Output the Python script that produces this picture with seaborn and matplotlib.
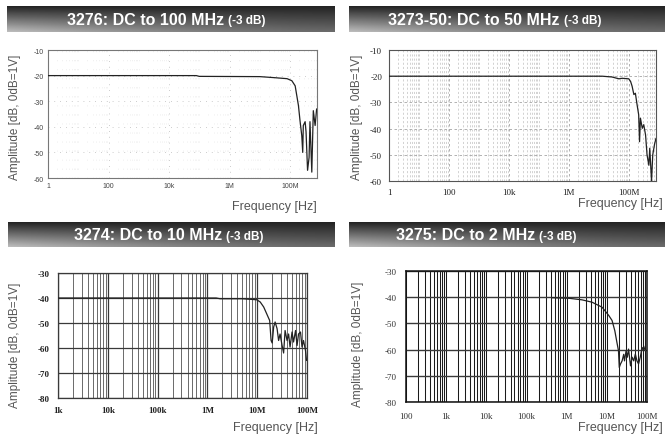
import numpy as np
import pandas as pd
import matplotlib
matplotlib.use("Agg")
import matplotlib.pyplot as plt
import matplotlib.ticker as mticker
from matplotlib import font_manager
import seaborn as sns

sns.set_style("white")
plt.rcParams["font.family"] = ["Liberation Sans", "DejaVu Sans"]

_names = {f.name for f in font_manager.fontManager.ttflist}
TITLE_FONT = "Liberation Sans Narrow" if "Liberation Sans Narrow" in _names else "Liberation Sans"

# ---------------------------------------------------------------------------
# data (Hz, dB)
# ---------------------------------------------------------------------------
titles = ["3276: DC to 100 MHz", "3273-50: DC to 50 MHz",
          "3274: DC to 10 MHz", "3275: DC to 2 MHz"]
title_note = "(-3 dB)"

f_3276 = [1, 8e4, 1e5, 1e7, 3e7, 8e7, 1.15e8, 1.48e8, 1.9e8, 2.14e8, 2.45e8,
          2.63e8, 2.75e8, 3.16e8, 3.39e8, 3.8e8, 4.27e8, 4.57e8, 5.25e8,
          5.89e8, 6.76e8, 7.59e8]
a_3276 = [-20.0, -20.0, -20.3, -20.4, -20.8, -21.2, -22.0, -24.0, -31.7, -37.6,
          -43.5, -50.0, -39.5, -38.0, -42.0, -57.0, -52.0, -38.0, -57.7,
          -33.7, -39.5, -33.0]

f_3273 = [1, 1.3e7, 2.75e7, 4.7e7, 6e7, 1e8, 1.15e8, 1.29e8, 1.48e8, 1.66e8,
          1.9e8, 2.14e8, 2.29e8, 2.45e8, 2.82e8, 3.16e8, 3.63e8, 4.07e8,
          4.68e8, 5.01e8, 5.75e8, 6.31e8, 7.24e8, 8.1e8]
a_3273 = [-20.0, -20.0, -20.3, -21.0, -20.8, -21.0, -22.0, -23.8, -27.0, -26.5,
          -31.0, -34.7, -45.0, -36.0, -39.9, -38.5, -42.4, -50.0, -54.0, -47.5,
          -60.0, -50.0, -46.0, -43.7]

f_3274 = [1e3, 1.5e6, 1.8e6, 5e6, 9.8e6, 1.15e7, 1.35e7, 1.55e7, 1.78e7, 1.9e7,
          2e7, 2.14e7, 2.29e7, 2.51e7, 2.69e7, 2.88e7, 3.16e7, 3.39e7, 3.63e7,
          3.98e7, 4.27e7, 4.57e7, 5.01e7, 5.37e7, 5.89e7, 6.31e7, 6.76e7,
          7.41e7, 7.94e7, 8.51e7, 9.33e7, 9.77e7]
a_3274 = [-40.0, -40.0, -40.3, -40.3, -40.7, -41.6, -43.6, -46.3, -49.0, -57.0,
          -58.0, -51.6, -49.6, -52.3, -57.0, -54.4, -59.0, -62.0, -53.0, -57.0,
          -54.4, -59.6, -53.6, -57.6, -53.0, -59.0, -54.4, -53.6, -59.6, -57.0,
          -61.0, -65.0]

f_3275 = [4.27e5, 1.12e6, 2.4e6, 4.27e6, 7.59e6, 1.12e7, 1.35e7, 1.58e7, 1.78e7,
          1.95e7, 2.04e7, 2.19e7, 2.4e7, 2.63e7, 2.75e7, 3.02e7, 3.24e7,
          3.47e7, 3.89e7, 4.27e7, 4.68e7, 5.13e7, 5.62e7, 6.17e7, 6.76e7,
          7.59e7, 8.32e7, 9.12e7]
a_3275 = [-40.2, -40.4, -41.0, -41.9, -43.8, -47.0, -48.9, -52.8, -57.2, -60.4,
          -66.8, -65.5, -64.3, -61.8, -64.3, -60.4, -62.9, -59.8, -66.2, -62.9,
          -64.3, -61.7, -64.3, -65.5, -63.0, -59.2, -60.4, -58.6]

xticks_top = [1, 1e2, 1e4, 1e6, 1e8]
xlabels_top = ["1", "100", "10k", "1M", "100M"]
xticks_3274 = [1e3, 1e4, 1e5, 1e6, 1e7, 1e8]
xlabels_3274 = ["1k", "10k", "100k", "1M", "10M", "100M"]
xticks_3275 = [1e2, 1e3, 1e4, 1e5, 1e6, 1e7, 1e8]
xlabels_3275 = ["100", "1k", "10k", "100k", "1M", "10M", "100M"]
yticks_top = [-60, -50, -40, -30, -20, -10]
yticks_bot = [-80, -70, -60, -50, -40, -30]

ylabel = "Amplitude [dB, 0dB=1V]"
xlabel = "Frequency [Hz]"

# ---------------------------------------------------------------------------
W, H = 665, 435
fig = plt.figure(figsize=(W / 100, H / 100), dpi=100)


def px_rect(x0, y0, x1, y1):
    return [x0 / W, 1 - y1 / H, (x1 - x0) / W, (y1 - y0) / H]


def title_bar(x0, y0, x1, y1, main, split_x):
    bax = fig.add_axes(px_rect(x0, y0, x1, y1))
    xx = np.linspace(0, 1, 200)[None, :]
    yy = np.linspace(0, 1, 30)[:, None]
    shade = 0.14 + yy * (0.28 + 0.32 * (1 - xx) ** 1.5)
    bax.imshow(shade, cmap="gray", vmin=0, vmax=1, aspect="auto",
               extent=[0, 1, 1, 0], interpolation="bilinear")
    bax.set_axis_off()
    yc = 1 - ((y0 + y1) / 2 + 0.5) / H
    fig.text(split_x / W, yc, main, ha="right", va="center", color="white",
             fontsize=11.5, fontweight="bold", family=TITLE_FONT)
    fig.text((split_x + 4) / W, yc - 0.002, title_note, ha="left", va="center",
             color="white", fontsize=8.5, fontweight="bold", family=TITLE_FONT)


def make_panel(rect, f, a, xlim, ylim, xticks, xlabels, yticks):
    ax = fig.add_axes(rect)
    df = pd.DataFrame({"f": f, "a": a})
    ax.set_xscale("log")
    sns.lineplot(data=df, x="f", y="a", ax=ax, color="#222222", lw=0.9,
                 estimator=None, sort=False)
    ax.set_xlim(*xlim)
    ax.set_ylim(*ylim)
    ax.set_xticks(xticks)
    ax.set_xticklabels(xlabels)
    ax.set_yticks(yticks)
    ax.set_yticklabels([str(v) for v in yticks])
    ax.xaxis.set_minor_locator(mticker.LogLocator(base=10, subs=np.arange(1, 10), numticks=20))
    ax.xaxis.set_minor_formatter(mticker.NullFormatter())
    ax.set_xlabel("")
    ax.set_ylabel("")
    ax.tick_params(which="both", length=0)
    return ax


# --- panel 1: 3276 --------------------------------------------------------
title_bar(7, 7, 335, 33, titles[0], 224)
ax1 = make_panel(px_rect(48, 51, 317, 179), f_3276, a_3276, (1, 7.8e8), (-60, -10),
                 xticks_top, xlabels_top, yticks_top)
ax1.grid(True, which="major", axis="both", color="#bbbbbb", lw=0.6, ls=(0, (1, 6)))
ax1.grid(True, which="minor", axis="x", color="#dddddd", lw=0.5, ls=(0, (1, 12)))
for s in ax1.spines.values():
    s.set_color("#777777")
    s.set_linewidth(0.8)
ax1.tick_params(labelsize=5, labelcolor="#444444", pad=3)

# --- panel 2: 3273-50 -----------------------------------------------------
title_bar(349, 7, 665, 33, titles[1], 560)
ax2 = make_panel(px_rect(389, 51, 656, 182), f_3273, a_3273, (1, 8.1e8), (-60, -10),
                 xticks_top, xlabels_top, yticks_top)
ax2.grid(True, which="major", axis="both", color="#a5a5a5", lw=0.6, ls=(0, (3, 3)))
ax2.grid(True, which="minor", axis="x", color="#c0c0c0", lw=0.5, ls=(0, (3, 3)))
for s in ax2.spines.values():
    s.set_color("#555555")
    s.set_linewidth(0.8)
ax2.tick_params(labelsize=6.5, labelcolor="#222222", pad=5)
for lab in ax2.get_xticklabels() + ax2.get_yticklabels():
    lab.set_family(["Liberation Serif", "DejaVu Serif"])

# --- panel 3: 3274 --------------------------------------------------------
title_bar(8, 223, 335, 248, titles[2], 222)
ax3 = make_panel(px_rect(58, 274, 307, 399), f_3274, a_3274, (1e3, 1e8), (-80, -30),
                 xticks_3274, xlabels_3274, yticks_bot)
ax3.grid(True, which="major", axis="both", color="#3a3a3a", lw=0.9)
ax3.grid(True, which="minor", axis="x", color="#6a6a6a", lw=0.7)
for s in ax3.spines.values():
    s.set_color("#3a3a3a")
    s.set_linewidth(0.9)
ax3.tick_params(labelsize=6.5, labelcolor="#222222", pad=6)
for lab in ax3.get_xticklabels() + ax3.get_yticklabels():
    lab.set_family(["Liberation Serif", "DejaVu Serif"])
    lab.set_fontweight("bold")

# --- panel 4: 3275 --------------------------------------------------------
title_bar(349, 223, 665, 248, titles[3], 535)
ax4 = make_panel(px_rect(406, 272, 647, 403), f_3275, a_3275, (1e2, 1e8), (-80, -30),
                 xticks_3275, xlabels_3275, yticks_bot)
ax4.grid(True, which="major", axis="y", color="#3a3a3a", lw=1.0)
ax4.grid(True, which="both", axis="x", color="#1a1a1a", lw=0.75)
for s in ax4.spines.values():
    s.set_color("#111111")
    s.set_linewidth(1.1)
ax4.tick_params(labelsize=6.5, labelcolor="#333333", pad=7)
for lab in ax4.get_xticklabels() + ax4.get_yticklabels():
    lab.set_family(["Liberation Serif", "DejaVu Serif"])

for ax in (ax1, ax2, ax3, ax4):
    ax.lines[0].set_zorder(5)

# --- axis labels (placed in figure pixels) --------------------------------
lab_kw = dict(color="#555555", fontsize=8.5, family=["Liberation Sans", "DejaVu Sans"])
for x, y in [(15, 117), (357, 117), (15, 345), (358, 344)]:
    fig.text(x / W, 1 - y / H, ylabel, rotation=90, ha="center", va="center", **lab_kw)
for x, y in [(317, 207), (663, 204), (318, 428), (663, 428)]:
    fig.text(x / W, 1 - y / H, xlabel, ha="right", va="center", **dict(lab_kw, fontsize=9))

fig.savefig("out.png", dpi=100)
